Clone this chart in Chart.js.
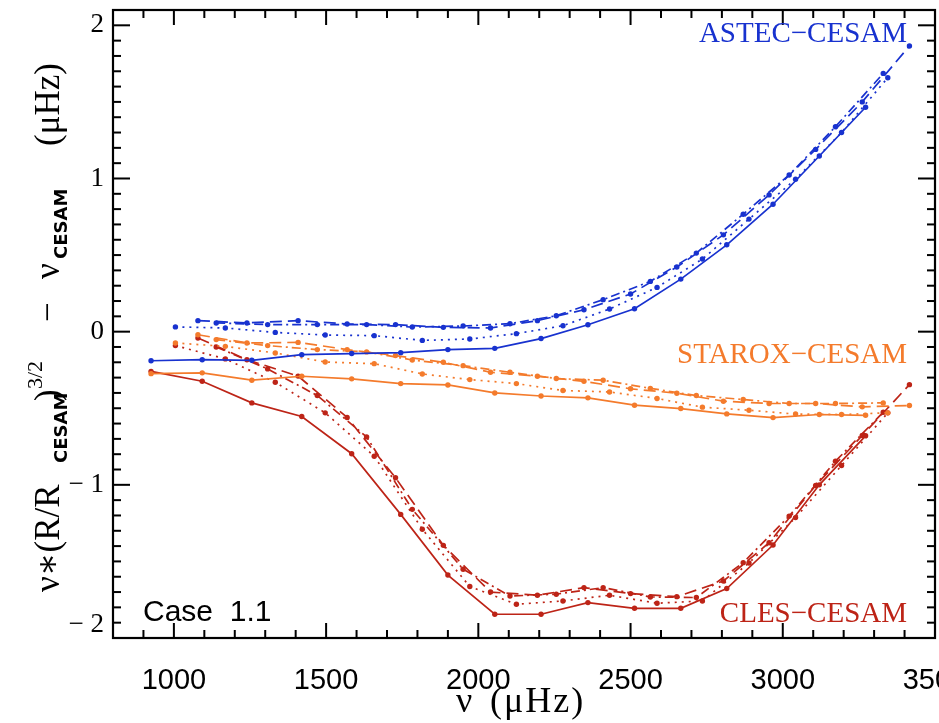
<!DOCTYPE html>
<html>
<head>
<meta charset="utf-8">
<script src="https://cdn.jsdelivr.net/npm/chart.js@4.4.1/dist/chart.umd.min.js"></script>
<style>
  html, body { margin: 0; padding: 0; background: #fff; overflow: hidden; }
  #wrap { width: 939px; height: 723px; }
</style>
</head>
<body>
<div id="wrap"><canvas id="plot" width="939" height="723"></canvas></div>
<script>
// mode frequencies (µHz) for each degree, shared by the three comparisons
const nuL0 = [925, 1093, 1256, 1420, 1584, 1745, 1900, 2054, 2206, 2360, 2513, 2665, 2816, 2968, 3120, 3272];
const nuL1 = [1005, 1169, 1333, 1497, 1658, 1816, 1972, 2125, 2278, 2431, 2587, 2736, 2889, 3042, 3193, 3345];
const nuL2 = [1079, 1240, 1408, 1569, 1728, 1885, 2040, 2194, 2347, 2500, 2652, 2805, 2955, 3108, 3261, 3416];
const nuL3 = [1139, 1308, 1471, 1633, 1783, 1950, 2104, 2256, 2410, 2565, 2716, 2870, 3021, 3173, 3330];

// scaled frequency differences (µHz)
const astecL0 = [-0.19, -0.183, -0.187, -0.15, -0.143, -0.137, -0.117, -0.109, -0.045, 0.045, 0.15, 0.343, 0.567, 0.832, 1.147, 1.465];
const astecL1 = [0.031, 0.024, -0.005, -0.022, -0.026, -0.057, -0.048, -0.013, 0.039, 0.148, 0.289, 0.474, 0.735, 0.995, 1.30, 1.658];
const astecL2 = [0.072, 0.057, 0.072, 0.050, 0.046, 0.028, 0.024, 0.072, 0.143, 0.246, 0.422, 0.632, 0.893, 1.19, 1.50, 1.865];
const astecL3 = [0.057, 0.046, 0.046, 0.046, 0.03, 0.037, 0.052, 0.104, 0.209, 0.328, 0.513, 0.767, 1.023, 1.338, 1.686];

const staroxL0 = [-0.274, -0.269, -0.317, -0.291, -0.308, -0.339, -0.348, -0.40, -0.42, -0.432, -0.48, -0.502, -0.537, -0.561, -0.541, -0.546];
const staroxL1 = [-0.074, -0.096, -0.139, -0.198, -0.209, -0.276, -0.313, -0.339, -0.384, -0.394, -0.436, -0.493, -0.513, -0.538, -0.541, -0.53];
const staroxL2 = [-0.02, -0.074, -0.07, -0.117, -0.156, -0.2, -0.265, -0.291, -0.324, -0.373, -0.402, -0.454, -0.469, -0.469, -0.491, -0.482];
const staroxL3 = [-0.052, -0.091, -0.117, -0.132, -0.185, -0.222, -0.265, -0.306, -0.317, -0.37, -0.417, -0.443, -0.469, -0.469, -0.465];

const clesL0 = [-0.259, -0.324, -0.465, -0.554, -0.797, -1.193, -1.589, -1.845, -1.845, -1.769, -1.806, -1.806, -1.677, -1.393, -1.0, -0.68];
const clesL1 = [-0.091, -0.178, -0.33, -0.53, -0.813, -1.29, -1.664, -1.78, -1.758, -1.721, -1.773, -1.758, -1.51, -1.214, -0.874, -0.53];
const clesL2 = [-0.041, -0.183, -0.29, -0.56, -0.954, -1.395, -1.70, -1.721, -1.671, -1.71, -1.73, -1.628, -1.378, -1.004, -0.678, -0.346];
const clesL3 = [-0.1, -0.243, -0.417, -0.687, -1.16, -1.551, -1.726, -1.714, -1.671, -1.732, -1.736, -1.508, -1.204, -0.846, -0.526];

const xTicks = [1000, 1500, 2000, 2500, 3000, 3500];
const yTicks = [-2, -1, 0, 1, 2];

const BLUE = '#1832cf';
const ORANGE = '#f47b2c';
const RED = '#bd2417';

const SERIF = '"Liberation Serif", "DejaVu Serif", serif';
const SANS = '"Liberation Sans", Arimo, sans-serif';

// line style per degree: solid, dotted, dashed, dash-dot
const dashes = [[], [2, 5], [12, 6], [9, 4, 2, 4]];

function series(nu, vals, color, l) {
  return {
    data: nu.map((v, i) => ({ x: v, y: vals[i] })),
    showLine: true,
    borderColor: color,
    backgroundColor: color,
    borderWidth: 1.7,
    borderDash: dashes[l],
    pointRadius: 2.7,
    pointBorderWidth: 0,
    pointBackgroundColor: color,
    tension: 0
  };
}

const datasets = [
  series(nuL0, astecL0, BLUE, 0), series(nuL1, astecL1, BLUE, 1),
  series(nuL2, astecL2, BLUE, 2), series(nuL3, astecL3, BLUE, 3),
  series(nuL0, staroxL0, ORANGE, 0), series(nuL1, staroxL1, ORANGE, 1),
  series(nuL2, staroxL2, ORANGE, 2), series(nuL3, staroxL3, ORANGE, 3),
  series(nuL0, clesL0, RED, 0), series(nuL1, clesL1, RED, 1),
  series(nuL2, clesL2, RED, 2), series(nuL3, clesL3, RED, 3)
];

// box with inward major/minor ticks on all four sides
function drawFrame(chart) {
  const ctx = chart.ctx;
  const a = chart.chartArea;
  const xs = chart.scales.x;
  const ys = chart.scales.y;
  ctx.save();
  ctx.strokeStyle = '#000';
  ctx.lineWidth = 2.2;
  ctx.strokeRect(a.left, a.top, a.right - a.left, a.bottom - a.top);
  ctx.fillStyle = '#000';
  for (let k = 8; k <= 35; k++) {
    const px = xs.getPixelForValue(k * 100);
    const len = k % 5 === 0 ? 15 : 8;
    ctx.fillRect(px - 1, a.bottom - len, 2, len);
    ctx.fillRect(px - 1, a.top, 2, len);
  }
  for (let i = -20; i <= 21; i++) {
    const py = ys.getPixelForValue(i / 10);
    const len = i % 10 === 0 ? 17 : 8;
    ctx.fillRect(a.left, py - 1, len, 2);
    ctx.fillRect(a.right - len, py - 1, len, 2);
  }
  ctx.restore();
}

// text pieces placed along a line, each at its own start offset
function drawPieces(ctx, pieces) {
  pieces.forEach(p => {
    ctx.font = p.font;
    ctx.fillText(p.t, p.at, p.dy || 0);
  });
}

// frame, curve names, case tag and axis titles
const decorations = {
  id: 'decorations',
  afterDraw(chart) {
    drawFrame(chart);
    const ctx = chart.ctx;
    ctx.save();
    ctx.textBaseline = 'alphabetic';
    ctx.textAlign = 'right';
    ctx.font = '29px ' + SERIF;
    ctx.fillStyle = BLUE;
    ctx.fillText('ASTEC\u2212CESAM', 907, 42);
    ctx.fillStyle = ORANGE;
    ctx.fillText('STAROX\u2212CESAM', 907, 363);
    ctx.fillStyle = RED;
    ctx.fillText('CLES\u2212CESAM', 907, 622);

    ctx.textAlign = 'left';
    ctx.fillStyle = '#000';
    ctx.font = '30px ' + SANS;
    ctx.fillText('Case  1.1', 143, 621);

    const big = '35px ' + SERIF;
    const sub = 'bold 18px "DejaVu Sans", sans-serif';
    const sup = '22px ' + SERIF;

    ctx.font = '36px ' + SERIF;
    ctx.fillText('\u03bd', 456, 712);
    ctx.letterSpacing = '2px';
    ctx.fillText('(\u03bcHz)', 490, 712);
    ctx.letterSpacing = '0px';

    // rotated title: offsets run upward from the bottom of the canvas
    ctx.translate(59, 723);
    ctx.rotate(-Math.PI / 2);
    drawPieces(ctx, [
      { t: '\u03bd\u2217(R/R', font: big, at: 131 },
      { t: 'CESAM', font: sub, at: 260, dy: 8 },
      { t: ')', font: big, at: 322 },
      { t: '3/2', font: sup, at: 334, dy: -17 },
      { t: '\u2212', font: big, at: 401 },
      { t: '\u03bd', font: big, at: 444 },
      { t: 'CESAM', font: sub, at: 464, dy: 8 },
      { t: '(\u03bcHz)', font: big, at: 577 }
    ]);
    ctx.restore();
  }
};

new Chart(document.getElementById('plot'), {
  type: 'scatter',
  data: { datasets },
  options: {
    responsive: false,
    animation: false,
    devicePixelRatio: 1,
    layout: { padding: { left: 0, right: 2, top: 10, bottom: 0 } },
    plugins: { legend: { display: false }, tooltip: { enabled: false } },
    scales: {
      x: {
        type: 'linear', min: 800, max: 3500,
        grid: { display: false, drawTicks: false },
        border: { display: false },
        afterBuildTicks: s => { s.ticks = xTicks.map(v => ({ value: v })); },
        afterFit: s => { s.height = 85; s.paddingLeft = 0; s.paddingRight = 0; },
        ticks: {
          color: '#000', padding: 28, maxRotation: 0, autoSkip: false,
          font: { family: SANS, size: 29, lineHeight: 1 },
          callback: v => String(v)
        }
      },
      y: {
        type: 'linear', min: -2, max: 2.1,
        grid: { display: false, drawTicks: false },
        border: { display: false },
        afterBuildTicks: s => { s.ticks = yTicks.map(v => ({ value: v })); },
        afterFit: s => { s.width = 113; s.paddingTop = 0; s.paddingBottom = 0; },
        ticks: {
          color: '#000', padding: 9, autoSkip: false,
          font: { family: SERIF, size: 27, lineHeight: 1 },
          callback: v => {
            const s = v < 0 ? '\u2212 ' + Math.abs(v) : String(v);
            return v === -2 ? [s, ''] : s;
          }
        }
      }
    }
  },
  plugins: [decorations]
});
</script>
</body>
</html>
